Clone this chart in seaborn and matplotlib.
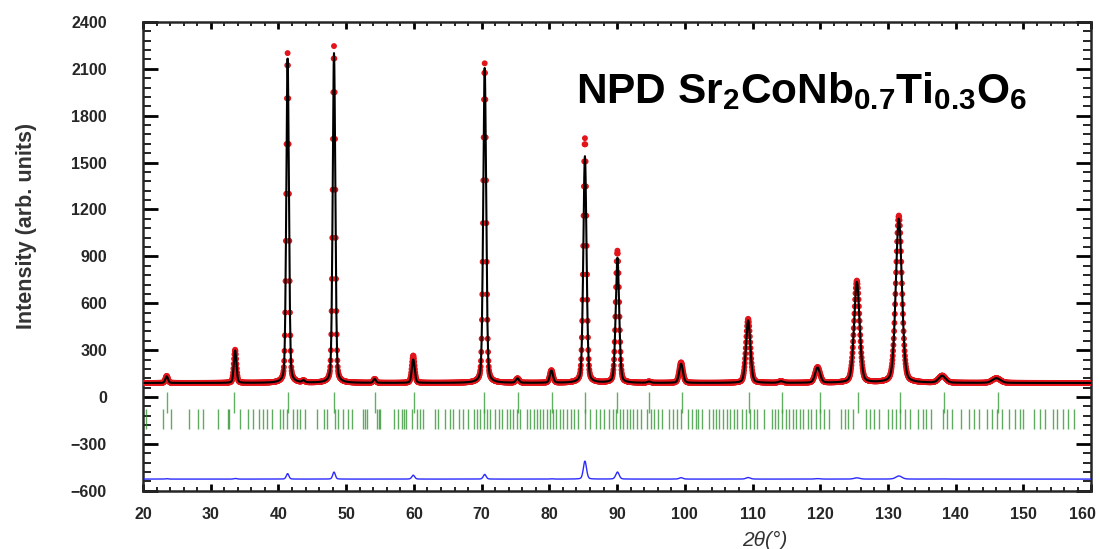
import os

if "MPLCONFIGDIR" not in os.environ:
    os.environ["MPLCONFIGDIR"] = "/tmp/matplotlib-cache"
    os.makedirs(os.environ["MPLCONFIGDIR"], exist_ok=True)

import matplotlib
matplotlib.use("Agg")
import matplotlib.pyplot as plt
from matplotlib.ticker import MultipleLocator
from matplotlib.transforms import offset_copy
import numpy as np
import pandas as pd
import seaborn as sns


# reflections read off the pattern: position (deg), observed / calculated
# height above background, and full width at half maximum
PEAK_POS = [23.5, 33.6, 41.35, 43.7, 48.2, 54.2, 59.9, 70.45, 75.3, 80.3,
            85.25, 90.05, 94.7, 99.45, 109.35, 114.2, 119.6, 125.4, 131.6,
            138.0, 146.0]
PEAK_OBS = [45, 212, 2110, 12, 2155, 25, 175, 2045, 28, 80,
            1565, 845, 8, 131, 410, 10, 100, 653, 1070, 45, 30]
PEAK_CALC = [42, 208, 2075, 12, 2110, 25, 150, 2015, 28, 78,
             1450, 800, 8, 122, 400, 10, 97, 645, 1050, 44, 30]
PEAK_FWHM = [0.45, 0.45, 0.45, 0.45, 0.45, 0.45, 0.5, 0.5, 0.55, 0.55,
             0.55, 0.6, 0.6, 0.65, 0.75, 0.8, 0.85, 0.95, 1.05, 1.2, 1.4]

BACKGROUND = 90.0
DIFF_OFFSET = -525.0

# Bragg positions, main (sub-cell) row and full-cell row
MAIN_TICKS = [23.5, 33.5, 41.4, 48.2, 54.2, 60.0, 70.4, 75.3, 80.4, 85.3,
              90.0, 94.7, 99.6, 109.5, 114.4, 119.9, 125.5, 131.8, 138.3,
              146.2]
CELL_TICKS = [20.4, 22.9, 24.2, 26.8, 28.1, 28.8, 31.0, 32.5, 32.7, 34.3,
              35.5, 36.3, 37.1, 37.7, 38.3, 39.0, 40.2, 40.7, 41.2, 42.2,
              42.7, 43.2, 43.9, 45.7, 46.7, 47.1, 48.4, 48.8, 49.6, 50.3,
              50.8, 52.5, 52.8, 53.1, 54.5, 54.8, 55.0, 57.0, 57.7, 58.2,
              58.5, 58.9, 59.7, 60.4, 60.9, 61.4, 63.1, 63.6, 64.6, 65.3,
              65.8, 66.6, 67.3, 68.0, 68.8, 69.3, 69.8, 70.3, 70.8, 71.2,
              72.0, 72.5, 73.0, 73.7, 74.2, 74.7, 75.2, 75.7, 76.7,
              77.2, 77.7, 78.2, 78.6, 79.1, 79.6, 80.1, 80.6, 81.0, 81.5,
              82.0, 82.6, 83.2, 83.7, 84.2, 85.3, 86.0, 86.9, 87.5, 88.0,
              88.8, 89.4, 89.9, 90.4, 90.9, 91.4, 91.9, 92.4, 93.0, 93.6,
              94.4, 95.0, 95.5, 96.0, 96.6, 97.7, 98.2, 98.8, 99.5,
              100.4, 101.0, 101.6, 102.0, 102.5, 103.6, 104.1, 104.6, 105.1,
              105.6, 106.2, 106.7, 107.2, 107.7, 108.4, 109.0, 109.6, 110.2,
              110.7, 111.7, 112.8, 113.3, 113.8, 114.4, 114.9, 115.4, 115.9,
              116.4, 117.0, 117.5, 118.2, 118.7, 119.3, 119.9, 120.5, 121.3,
              123.0, 123.6, 124.1, 124.9, 126.8, 127.4, 128.0, 128.6, 130.0,
              130.6, 131.2, 131.8, 132.5, 133.3, 134.4, 135.1, 135.6, 136.4,
              138.1, 138.7, 139.4, 140.8, 141.9, 142.7, 143.5, 144.6, 145.3,
              146.1, 146.8, 147.9, 148.7, 149.5, 150.0, 151.6, 152.4, 153.2,
              154.3, 155.0, 155.8, 156.6, 157.4]

TITLE = r"NPD Sr$_2$CoNb$_{0.7}$Ti$_{0.3}$O$_6$"


def profile(two_theta, heights):
    y = np.full_like(two_theta, BACKGROUND)
    for pos, h, w in zip(PEAK_POS, heights, PEAK_FWHM):
        dx = (two_theta - pos) / w
        gauss = np.exp(-4 * np.log(2) * dx ** 2)
        lor = 1.0 / (1.0 + 4 * dx ** 2)
        y += h * (0.75 * gauss + 0.25 * lor)
    return y


def build_frame():
    two_theta = np.arange(20.2, 160.0, 0.05)
    obs = profile(two_theta, PEAK_OBS)
    calc = profile(two_theta, PEAK_CALC)
    return pd.DataFrame({
        "two_theta": two_theta,
        "obs": obs,
        "calc": calc,
        "diff": obs - calc + DIFF_OFFSET,
    })


def configure_plotting():
    sns.set_style("ticks")
    plt.rcParams.update({
        "font.family": ["Liberation Sans", "DejaVu Sans"],
        "mathtext.fontset": "custom",
        "mathtext.default": "bf",
        "mathtext.bf": "Liberation Sans:bold",
        "mathtext.rm": "Liberation Sans:bold",
        "axes.linewidth": 1.8,
    })


def make_plot(df):
    configure_plotting()
    fig = plt.figure(figsize=(11.0, 5.49), dpi=100)
    ax = fig.add_axes([0.130, 0.106, 0.862, 0.854])

    ax.vlines(CELL_TICKS, -205, -75, colors="#2a8f2a", linewidth=1.0, alpha=0.75, zorder=2)
    ax.vlines(MAIN_TICKS, -100, 30, colors="#3a9c3a", linewidth=1.0, alpha=0.8, zorder=2)

    sns.lineplot(data=df, x="two_theta", y="diff", color="#2a2aff", linewidth=1.0,
                 estimator=None, sort=False, ax=ax, zorder=3)
    sns.scatterplot(data=df, x="two_theta", y="obs", color="#e3141a", s=18,
                    linewidth=0, edgecolor="none", ax=ax, zorder=4)
    sns.lineplot(data=df, x="two_theta", y="calc", color="black", linewidth=1.5,
                 estimator=None, sort=False, ax=ax, zorder=5)

    ax.set_xlim(20, 160)
    ax.set_ylim(-600, 2400)
    ax.xaxis.set_major_locator(MultipleLocator(10))
    ax.xaxis.set_minor_locator(MultipleLocator(2))
    ax.yaxis.set_major_locator(MultipleLocator(300))
    ax.yaxis.set_minor_locator(MultipleLocator(60))

    ax.tick_params(axis="both", which="both", direction="in",
                   top=True, right=True, color="black")
    ax.tick_params(axis="y", which="major", length=11, width=2.0, pad=26)
    ax.tick_params(axis="y", which="minor", length=6, width=1.2)
    ax.tick_params(axis="x", which="major", length=5, width=2.0, pad=12)
    ax.tick_params(axis="x", which="minor", length=3, width=1.2)

    ax.set_xlabel("2θ(°)", fontsize=15, style="italic", color="#333333")
    ax.xaxis.set_label_coords(0.656, -0.086)
    ax.set_ylabel("Intensity (arb. units)", fontsize=15.5, fontweight="bold", color="#333333")
    ax.yaxis.set_label_coords(-0.112, 0.565)

    ax.text(83.9, 1880, TITLE, fontsize=30.5, fontweight="bold", color="black",
            ha="left", va="baseline")

    # fix the tick objects first, then style the labels so nothing resets them
    fig.canvas.draw()
    for lab in ax.get_xticklabels() + ax.get_yticklabels():
        lab.set_fontweight("bold")
        lab.set_fontsize(11.5)
    # the 160 label sits against the figure edge, as in the source image
    for tick in ax.xaxis.get_major_ticks():
        if abs(tick.get_loc() - 160) < 1e-6:
            lab = tick.label1
            lab.set_ha("right")
            lab.set_transform(offset_copy(lab.get_transform(), fig=fig, x=5, y=0, units="dots"))
    return fig


def main():
    df = build_frame()
    fig = make_plot(df)
    fig.savefig("out.png", dpi=100)
    plt.close(fig)


if __name__ == "__main__":
    main()
